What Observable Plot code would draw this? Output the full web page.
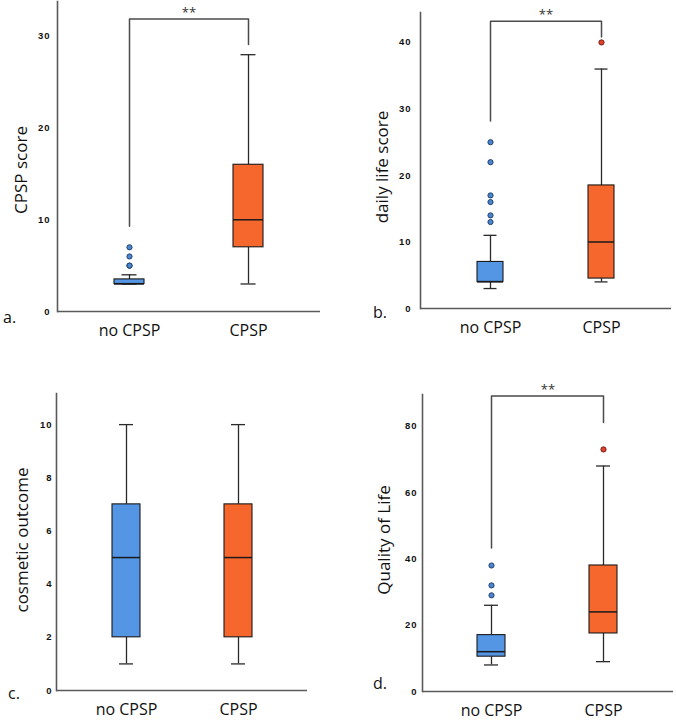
<!DOCTYPE html>
<html><head><meta charset="utf-8">
<script src="https://cdn.jsdelivr.net/npm/d3@7"></script>
<script src="https://cdn.jsdelivr.net/npm/@observablehq/plot@0.6"></script>
<style>
body{margin:0;background:#fff}
#root{position:relative;width:676px;height:721px;overflow:hidden;font-family:"Open Sans",sans-serif;background:#fff}
.panel{position:absolute}
.ytitle{position:absolute;font-size:17px;color:#111;white-space:nowrap;transform:translate(-50%,-50%) rotate(-90deg)}
.letter{position:absolute;font-size:16px;color:#111;line-height:1;transform:translate(0,-50%)}
svg [aria-label="y-axis tick label"] text{letter-spacing:1px}
</style>
</head><body><div id="root"></div>
<script>
const groups = ["no CPSP", "CPSP"];
const groupColors = ["#5495e4", "#f5672c"];
const outlierFill = ["#4a86d0", "#e0402e"];
const outlierStroke = ["#23426e", "#7a1e12"];

// a. CPSP score
const aLow = [3, 3];
const aQ1 = [3, 7];
const aMedian = [3, 10];
const aQ3 = [3.5, 16];
const aHigh = [4, 28];
const aOutliers = [[5, 5, 6, 7], []];
const aBracket = [9.3, 31.9, 29.1];
const aTicks = [0, 10, 20, 30];

// b. daily life score
const bLow = [3, 4];
const bQ1 = [4, 4.5];
const bMedian = [4, 10];
const bQ3 = [7, 18.5];
const bHigh = [11, 36];
const bOutliers = [[13, 14, 16, 17, 22, 25], [40]];
const bBracket = [28.2, 43.2, 40.8];
const bTicks = [0, 10, 20, 30, 40];

// c. cosmetic outcome
const cLow = [1, 1];
const cQ1 = [2, 2];
const cMedian = [5, 5];
const cQ3 = [7, 7];
const cHigh = [10, 10];
const cOutliers = [[], []];
const cBracket = null;
const cTicks = [0, 2, 4, 6, 8, 10];

// d. Quality of Life
const dLow = [8, 9];
const dQ1 = [10.5, 17.5];
const dMedian = [12, 24];
const dQ3 = [17, 38];
const dHigh = [26, 68];
const dOutliers = [[29, 32, 38], [73]];
const dBracket = [43.3, 89.1, 81.1];
const dTicks = [0, 20, 40, 60, 80];

const panels = [
  {letter: "a.", title: "CPSP score", low: aLow, q1: aQ1, med: aMedian, q3: aQ3, high: aHigh, outliers: aOutliers, bracket: aBracket, ticks: aTicks,
   left: 0, top: 0, width: 338, height: 345, mL: 57, mR: 18, mT: 1, mB: 34, ymax: 33.8, pi: 0.747, po: 0.478, tp: 7, cap: 7.5,
   titleX: 20, titleY: 170, letterX: 3, letterY: 317},
  {letter: "b.", title: "daily life score", low: bLow, q1: bQ1, med: bMedian, q3: bQ3, high: bHigh, outliers: bOutliers, bracket: bBracket, ticks: bTicks,
   left: 338, top: 0, width: 338, height: 345, mL: 82, mR: 5, mT: 12, mB: 37, ymax: 44.5, pi: 0.764, po: 0.508, tp: 9, cap: 6.5,
   titleX: 381, titleY: 167, letterX: 373, letterY: 312},
  {letter: "c.", title: "cosmetic outcome", low: cLow, q1: cQ1, med: cMedian, q3: cQ3, high: cHigh, outliers: cOutliers, bracket: cBracket, ticks: cTicks,
   left: 0, top: 360, width: 338, height: 361, mL: 56, mR: 31, mT: 33, mB: 31, ymax: 11.17, pi: 0.75, po: 0.487, tp: 4, cap: 7,
   titleX: 21, titleY: 540, letterX: 8, letterY: 693},
  {letter: "d.", title: "Quality of Life", low: dLow, q1: dQ1, med: dMedian, q3: dQ3, high: dHigh, outliers: dOutliers, bracket: dBracket, ticks: dTicks,
   left: 338, top: 360, width: 338, height: 361, mL: 84, mR: 3, mT: 34, mB: 30, ymax: 89.56, pi: 0.748, po: 0.488, tp: 5, cap: 7,
   titleX: 383, titleY: 540, letterX: 373, letterY: 683}
];

const root = document.getElementById("root");

for (const p of panels) {
  const rows = groups.map((g, i) => ({group: g, low: p.low[i], q1: p.q1[i], med: p.med[i], q3: p.q3[i], high: p.high[i]}));
  const outs = [];
  groups.forEach((g, i) => p.outliers[i].forEach(v => outs.push({group: g, v, i})));
  const marks = [
    Plot.ruleX(rows, {x: "group", y1: "low", y2: "q1", stroke: "#2a2a2a", strokeWidth: 1.3}),
    Plot.ruleX(rows, {x: "group", y1: "q3", y2: "high", stroke: "#2a2a2a", strokeWidth: 1.3}),
    Plot.tickY(rows, {x: "group", y: "low", stroke: "#2a2a2a", strokeWidth: 1.3, inset: p.cap}),
    Plot.tickY(rows, {x: "group", y: "high", stroke: "#2a2a2a", strokeWidth: 1.3, inset: p.cap}),
    Plot.rectY(rows, {x: "group", y1: "q1", y2: "q3", fill: "group", stroke: "#1a1a1a", strokeWidth: 1.1}),
    Plot.tickY(rows, {x: "group", y: "med", stroke: "#1a1a1a", strokeWidth: 1.5}),
    ...groups.map((g, i) => Plot.dot(outs.filter(o => o.i === i), {x: "group", y: "v", r: 2.6, fill: outlierFill[i], stroke: outlierStroke[i], strokeWidth: 1})),
    Plot.frame({anchor: "left", stroke: "#5a5a5a", strokeWidth: 1.6}),
    Plot.ruleY([0], {stroke: "#5a5a5a", strokeWidth: 1.6}),
    Plot.axisY(p.ticks, {tickSize: 0, tickPadding: p.tp, fontWeight: "bold", fontSize: 9.5, fontFamily: "Liberation Sans, Arial, sans-serif", fill: "#111", label: null}),
    Plot.axisX({tickSize: 0, tickPadding: 13, fontSize: 16, fontFamily: "Open Sans, sans-serif", fill: "#111", label: null})
  ];
  if (p.bracket) {
    const b = p.bracket;
    const pts = [
      {group: groups[0], v: b[0]}, {group: groups[0], v: b[1]},
      {group: groups[1], v: b[1]}, {group: groups[1], v: b[2]}
    ];
    marks.push(Plot.line(pts, {x: "group", y: "v", stroke: "#4a4a4a", strokeWidth: 1.5}));
    marks.push(Plot.text([{v: b[1]}], {y: "v", text: () => "**", dy: -6, fontSize: 13, fill: "#333", fontFamily: "Open Sans, sans-serif"}));
  }
  const svg = Plot.plot({
    width: p.width, height: p.height,
    marginLeft: p.mL, marginRight: p.mR, marginTop: p.mT, marginBottom: p.mB,
    x: {type: "band", domain: groups, paddingInner: p.pi, paddingOuter: p.po},
    y: {domain: [0, p.ymax]},
    color: {domain: groups, range: groupColors},
    style: {background: "transparent", overflow: "visible"},
    marks
  });
  svg.classList.add("panel");
  svg.style.left = p.left + "px";
  svg.style.top = p.top + "px";
  root.appendChild(svg);

  const t = document.createElement("div");
  t.className = "ytitle";
  t.textContent = p.title;
  t.style.left = p.titleX + "px";
  t.style.top = p.titleY + "px";
  root.appendChild(t);

  const l = document.createElement("div");
  l.className = "letter";
  l.textContent = p.letter;
  l.style.left = p.letterX + "px";
  l.style.top = p.letterY + "px";
  root.appendChild(l);
}
</script>
</body></html>
